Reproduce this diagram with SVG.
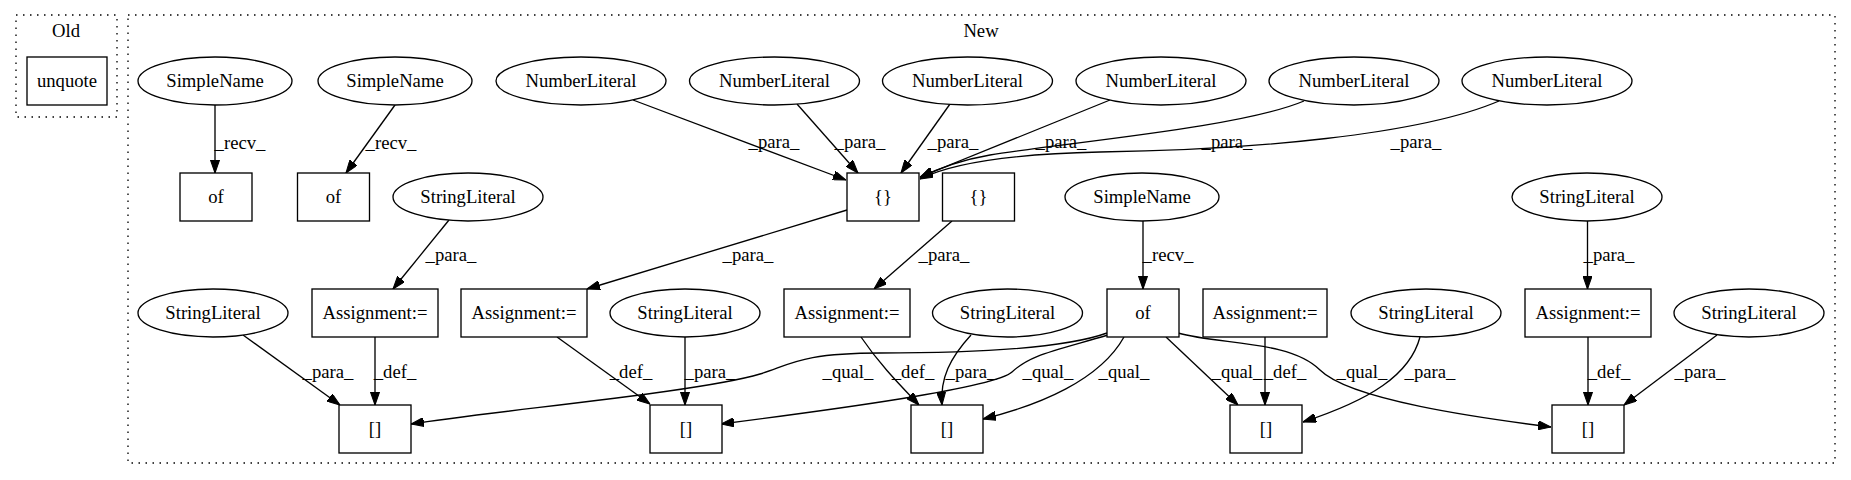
<svg xmlns="http://www.w3.org/2000/svg" width="1851" height="480" viewBox="0 0 1851 480" font-family="'Liberation Serif', 'Times New Roman', Times, serif" font-size="18.67">
<style>
text{text-anchor:middle;fill:#000}
.n{fill:#fff;stroke:#000;stroke-width:1.33}
.cl{fill:none;stroke:#000;stroke-width:1.33;stroke-dasharray:1.5,5.5}
.e{fill:none;stroke:#000;stroke-width:1.33;marker-end:url(#ah)}
</style>
<defs>
<marker id="ah" viewBox="0 0 10 7" refX="10" refY="3.5" markerWidth="13" markerHeight="9.1" markerUnits="userSpaceOnUse" orient="auto">
<path d="M0,0 L10,3.5 L0,7 z" fill="#000" stroke="#000" stroke-width="0.8"/>
</marker>
</defs>
<rect width="1851" height="480" fill="#fff"/>
<g id="cluster_old">
<rect class="cl" x="16" y="15" width="101" height="102"/>
<text x="66" y="37">Old</text>
</g>
<g id="cluster_new">
<rect class="cl" x="128" y="15" width="1707" height="448"/>
<text x="981" y="37">New</text>
</g>
<g id="edges">
<path class="e" d="M215,105 L215,173"/>
<text x="240" y="149">_recv_</text>
<path class="e" d="M395,105 L346,173"/>
<text x="391" y="149">_recv_</text>
<path class="e" d="M633,100 L846,180"/>
<text x="774" y="148">_para_</text>
<path class="e" d="M797,104 L858,173"/>
<text x="860" y="148">_para_</text>
<path class="e" d="M950,104 L901,173"/>
<text x="953" y="148">_para_</text>
<path class="e" d="M1110,100 L920,177"/>
<text x="1061" y="148">_para_</text>
<path class="e" d="M1304,101 C1240,128 1060,143 990,155 C955,161 935,170 920,178"/>
<text x="1227" y="148">_para_</text>
<path class="e" d="M1499,101 C1420,135 1250,150 1100,152 C1010,154 950,164 920,179"/>
<text x="1416" y="148">_para_</text>
<path class="e" d="M847,210 L587,289"/>
<text x="748" y="261">_para_</text>
<path class="e" d="M952,221 L874,289"/>
<text x="944" y="261">_para_</text>
<path class="e" d="M1143,221 L1143,289"/>
<text x="1168" y="261">_recv_</text>
<path class="e" d="M449,220 L393,289"/>
<text x="451" y="261">_para_</text>
<path class="e" d="M1587.5,221 L1587.5,289"/>
<text x="1609" y="261">_para_</text>
<path class="e" d="M243,335 L340,405"/>
<text x="328" y="378">_para_</text>
<path class="e" d="M375,337 L375,405"/>
<text x="395" y="378">_def_</text>
<path class="e" d="M557,337 L650,404"/>
<text x="631" y="378">_def_</text>
<path class="e" d="M685,337 L685,405"/>
<text x="710" y="378">_para_</text>
<path class="e" d="M861,337 C880,365 900,385 919,405"/>
<text x="913" y="378">_def_</text>
<path class="e" d="M971,335 C950,358 940,378 942,405"/>
<text x="971" y="378">_para_</text>
<path class="e" d="M1107,333 C1060,350 960,353 880,353 C800,353 790,365 760,374 C700,392 500,410 411,424"/>
<text x="848" y="378">_qual_</text>
<path class="e" d="M1108,335 C1050,352 1030,355 1012,372 C995,388 830,410 721,424"/>
<text x="1048" y="378">_qual_</text>
<path class="e" d="M1124,337 C1100,380 1040,405 983,419"/>
<text x="1124" y="378">_qual_</text>
<path class="e" d="M1166,337 L1238,405"/>
<text x="1237" y="378">_qual_</text>
<path class="e" d="M1178,333 C1220,345 1290,340 1320,370 C1350,400 1480,418 1551,427"/>
<text x="1362" y="378">_qual_</text>
<path class="e" d="M1265,337 L1265,405"/>
<text x="1285" y="378">_def_</text>
<path class="e" d="M1420,337 C1410,375 1370,400 1303,422"/>
<text x="1430" y="378">_para_</text>
<path class="e" d="M1588,337 L1588,405"/>
<text x="1609" y="378">_def_</text>
<path class="e" d="M1717,335 L1624,405"/>
<text x="1700" y="378">_para_</text>
</g>
<g id="unquote"><rect class="n" x="27" y="57" width="80" height="48"/><text x="67" y="87">unquote</text></g>
<g id="simplename1"><ellipse class="n" cx="215" cy="81" rx="77" ry="24"/><text x="215" y="87">SimpleName</text></g>
<g id="simplename2"><ellipse class="n" cx="395" cy="81" rx="77" ry="24"/><text x="395" y="87">SimpleName</text></g>
<g id="numberliteral1"><ellipse class="n" cx="581" cy="81" rx="85" ry="24"/><text x="581" y="87">NumberLiteral</text></g>
<g id="numberliteral2"><ellipse class="n" cx="774.5" cy="81" rx="85" ry="24"/><text x="774.5" y="87">NumberLiteral</text></g>
<g id="numberliteral3"><ellipse class="n" cx="967.5" cy="81" rx="85" ry="24"/><text x="967.5" y="87">NumberLiteral</text></g>
<g id="numberliteral4"><ellipse class="n" cx="1161" cy="81" rx="85" ry="24"/><text x="1161" y="87">NumberLiteral</text></g>
<g id="numberliteral5"><ellipse class="n" cx="1354" cy="81" rx="85" ry="24"/><text x="1354" y="87">NumberLiteral</text></g>
<g id="numberliteral6"><ellipse class="n" cx="1547" cy="81" rx="85" ry="24"/><text x="1547" y="87">NumberLiteral</text></g>
<g id="of1"><rect class="n" x="180" y="173" width="72" height="48"/><text x="216" y="203">of</text></g>
<g id="of2"><rect class="n" x="297.5" y="173" width="72" height="48"/><text x="333.5" y="203">of</text></g>
<g id="stringliteral_top1"><ellipse class="n" cx="468" cy="197" rx="75" ry="24"/><text x="468" y="203">StringLiteral</text></g>
<g id="braces1"><rect class="n" x="847" y="173" width="72" height="48"/><text x="883" y="203">{}</text></g>
<g id="braces2"><rect class="n" x="942.5" y="173" width="72" height="48"/><text x="978.5" y="203">{}</text></g>
<g id="simplename3"><ellipse class="n" cx="1142" cy="197" rx="77" ry="24"/><text x="1142" y="203">SimpleName</text></g>
<g id="stringliteral_top2"><ellipse class="n" cx="1587" cy="197" rx="75" ry="24"/><text x="1587" y="203">StringLiteral</text></g>
<g id="stringliteral_a"><ellipse class="n" cx="213" cy="313" rx="75" ry="24"/><text x="213" y="319">StringLiteral</text></g>
<g id="assignment1"><rect class="n" x="312" y="289" width="126" height="48"/><text x="375" y="319">Assignment:=</text></g>
<g id="assignment2"><rect class="n" x="461" y="289" width="126" height="48"/><text x="524" y="319">Assignment:=</text></g>
<g id="stringliteral_b"><ellipse class="n" cx="685" cy="313" rx="75" ry="24"/><text x="685" y="319">StringLiteral</text></g>
<g id="assignment3"><rect class="n" x="784" y="289" width="126" height="48"/><text x="847" y="319">Assignment:=</text></g>
<g id="stringliteral_c"><ellipse class="n" cx="1007.5" cy="313" rx="75" ry="24"/><text x="1007.5" y="319">StringLiteral</text></g>
<g id="of3"><rect class="n" x="1107" y="289" width="72" height="48"/><text x="1143" y="319">of</text></g>
<g id="assignment4"><rect class="n" x="1203" y="289" width="124" height="48"/><text x="1265" y="319">Assignment:=</text></g>
<g id="stringliteral_d"><ellipse class="n" cx="1426" cy="313" rx="75" ry="24"/><text x="1426" y="319">StringLiteral</text></g>
<g id="assignment5"><rect class="n" x="1525" y="289" width="126" height="48"/><text x="1588" y="319">Assignment:=</text></g>
<g id="stringliteral_e"><ellipse class="n" cx="1749" cy="313" rx="75" ry="24"/><text x="1749" y="319">StringLiteral</text></g>
<g id="index1"><rect class="n" x="339" y="405" width="72" height="48"/><text x="375" y="435">[]</text></g>
<g id="index2"><rect class="n" x="650" y="405" width="72" height="48"/><text x="686" y="435">[]</text></g>
<g id="index3"><rect class="n" x="911" y="405" width="72" height="48"/><text x="947" y="435">[]</text></g>
<g id="index4"><rect class="n" x="1230" y="405" width="72" height="48"/><text x="1266" y="435">[]</text></g>
<g id="index5"><rect class="n" x="1552" y="405" width="72" height="48"/><text x="1588" y="435">[]</text></g>
</svg>
